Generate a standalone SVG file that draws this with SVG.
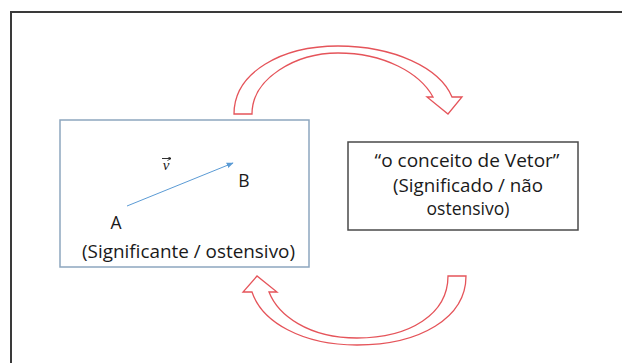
<svg xmlns="http://www.w3.org/2000/svg" width="622" height="363" viewBox="0 0 622 363">
<style>
.t{font-family:"Open Sans","Liberation Sans",Arial,sans-serif;font-size:17.5px;fill:#1a1a1a}
.c{text-anchor:middle}
.arr{fill:#fff;stroke:#e5545a;stroke-width:1.3;stroke-linejoin:miter}
</style>
<defs>
<marker id="ah" viewBox="0 0 10 10" refX="9" refY="5" markerWidth="7" markerHeight="7" orient="auto" markerUnits="userSpaceOnUse">
<path d="M0,1 L10,5 L0,9 Z" fill="#5b9bd5"/>
</marker>
<marker id="vh" viewBox="0 0 10 10" refX="9" refY="5" markerWidth="4" markerHeight="4" orient="auto" markerUnits="userSpaceOnUse">
<path d="M0,0 L10,5 L0,10" fill="none" stroke="#1a1a1a" stroke-width="2"/>
</marker>
</defs>
<rect width="622" height="363" fill="#fff"/>
<path d="M11,363 V12 H622" fill="none" stroke="#3a3a3a" stroke-width="2"/>
<g id="connectors">
<path id="arrow-top" class="arr" d="M234,114 C234,72 282,46 338,46 C394,46 440,68 452,97 L462,97 L448,114 L427,97 L433,97 C420,73 384,53 338,53 C296,53 252,78 252,114 Z"/>
<path id="arrow-bottom" class="arr" d="M466,276 C466,318 420,345 357,345 C302,345 262,322 252,292 L243,292 L257,276 L277,292 L269,292 C278,315 308,338 357,338 C410,338 448,314 448,276 Z"/>
</g>
<g id="node-significante">
<rect x="60" y="120" width="249" height="147" fill="#fff" stroke="#8da6bf" stroke-width="1.5"/>
<line x1="127" y1="206" x2="233" y2="163" stroke="#5b9bd5" stroke-width="1" marker-end="url(#ah)"/>
<text x="166" y="170" font-family="'Liberation Serif',serif" font-style="italic" font-size="15" text-anchor="middle" fill="#1a1a1a">v</text>
<line x1="162" y1="158.5" x2="171" y2="158.5" stroke="#1a1a1a" stroke-width="0.9" marker-end="url(#vh)"/>
<text class="t c" x="244" y="187">B</text>
<text class="t c" x="116" y="229">A</text>
<text class="t" x="82" y="258" textLength="213" lengthAdjust="spacingAndGlyphs">(Significante / ostensivo)</text>
</g>
<g id="node-significado">
<rect x="348" y="142" width="230" height="88" fill="#fff" stroke="#4a4a4a" stroke-width="1.5"/>
<text class="t c" x="467" y="167" textLength="185" lengthAdjust="spacingAndGlyphs">“o conceito de Vetor”</text>
<text class="t c" x="468" y="192" textLength="150" lengthAdjust="spacingAndGlyphs">(Significado / não</text>
<text class="t c" x="468" y="215" textLength="83" lengthAdjust="spacingAndGlyphs">ostensivo)</text>
</g>
</svg>
